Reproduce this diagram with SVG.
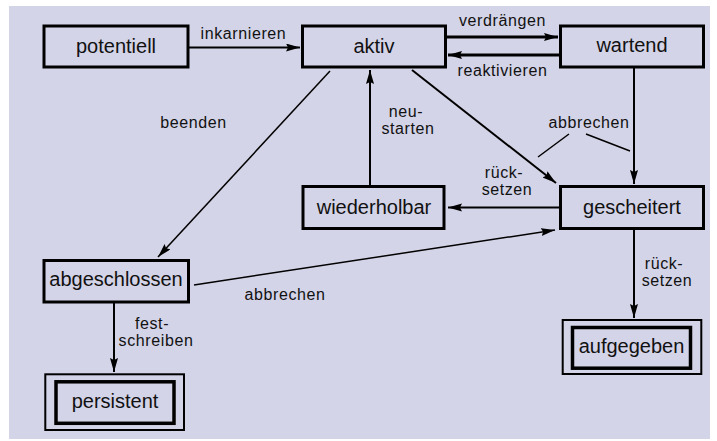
<svg xmlns="http://www.w3.org/2000/svg" width="717" height="441" viewBox="0 0 717 441">
  <style>
    .box { fill: none; stroke: #000; stroke-width: 3; }
    .outer { fill: none; stroke: #000; stroke-width: 2; }
    .inner { fill: none; stroke: #000; stroke-width: 3.5; }
    .node { font-family: "Liberation Sans", Arial, sans-serif; font-size: 20px; fill: #111; text-anchor: middle; }
    .lbl { font-family: "Liberation Sans", Arial, sans-serif; font-size: 16px; letter-spacing: 0.6px; fill: #111; text-anchor: middle; }
    .edge { fill: none; stroke: #000; stroke-width: 2; }
    .thick { stroke-width: 3; }
    .thin { fill: none; stroke: #000; stroke-width: 1.5; }
  </style>
  <defs>
    <marker id="arrow" markerUnits="userSpaceOnUse" markerWidth="16" markerHeight="10" refX="14" refY="4" orient="auto">
      <path d="M0,0 L14,4 L0,8 L2,4 Z" fill="#000"/>
    </marker>
  </defs>

  <!-- canvas -->
  <rect x="9" y="6" width="701" height="433" fill="#d4d4e8"/>

  <!-- connectors -->
  <g id="connectors">
    <line class="edge" x1="188" y1="47.5" x2="300" y2="47.5" marker-end="url(#arrow)"/>
    <line class="edge thick" x1="447" y1="37" x2="558" y2="37" marker-end="url(#arrow)"/>
    <line class="edge thick" x1="559" y1="55" x2="448" y2="55" marker-end="url(#arrow)"/>
    <line class="thin" x1="330" y1="71" x2="158" y2="257" marker-end="url(#arrow)"/>
    <line class="edge" x1="412" y1="70" x2="556" y2="183" marker-end="url(#arrow)"/>
    <line class="edge" x1="370" y1="185" x2="370" y2="70" marker-end="url(#arrow)"/>
    <line class="edge" x1="634" y1="68" x2="634" y2="184" marker-end="url(#arrow)"/>
    <line class="edge" x1="559" y1="207.5" x2="448" y2="207.5" marker-end="url(#arrow)"/>
    <line class="thin" x1="194" y1="285" x2="555" y2="230" marker-end="url(#arrow)"/>
    <line class="edge" x1="634" y1="230" x2="634" y2="318" marker-end="url(#arrow)"/>
    <line class="edge" x1="114" y1="303" x2="114" y2="372" marker-end="url(#arrow)"/>
    <!-- pointers for the abbrechen label -->
    <line class="thin" x1="569" y1="134" x2="538" y2="157"/>
    <line class="thin" x1="586" y1="134" x2="630" y2="151"/>

    <text class="lbl" x="243.5" y="39">inkarnieren</text>
    <text class="lbl" x="502.5" y="26">verdrängen</text>
    <text class="lbl" x="502.5" y="76">reaktivieren</text>
    <text class="lbl" x="193.5" y="128">beenden</text>
    <text class="lbl" x="406" y="117">neu-</text>
    <text class="lbl" x="408" y="134">starten</text>
    <text class="lbl" x="589" y="128">abbrechen</text>
    <text class="lbl" x="504" y="178">rück-</text>
    <text class="lbl" x="507" y="195">setzen</text>
    <text class="lbl" x="285" y="300">abbrechen</text>
    <text class="lbl" x="664" y="269">rück-</text>
    <text class="lbl" x="667" y="286">setzen</text>
    <text class="lbl" x="152" y="329">fest-</text>
    <text class="lbl" x="156" y="346">schreiben</text>
  </g>

  <!-- states -->
  <g id="potentiell">
    <rect class="box" x="44" y="26" width="144" height="41"/>
    <text class="node" x="116" y="53">potentiell</text>
  </g>
  <g id="aktiv">
    <rect class="box" x="302.5" y="26" width="143" height="41"/>
    <text class="node" x="374" y="53">aktiv</text>
  </g>
  <g id="wartend">
    <rect class="box" x="560.5" y="26" width="143" height="41"/>
    <text class="node" x="632" y="52">wartend</text>
  </g>
  <g id="wiederholbar">
    <rect class="box" x="303" y="186.5" width="141" height="42"/>
    <text class="node" x="374" y="214">wiederholbar</text>
  </g>
  <g id="gescheitert">
    <rect class="box" x="560.5" y="186.5" width="143" height="42"/>
    <text class="node" x="632" y="214">gescheitert</text>
  </g>
  <g id="abgeschlossen">
    <rect class="box" x="44" y="260.5" width="144.5" height="41.5"/>
    <text class="node" x="116" y="286">abgeschlossen</text>
  </g>
  <g id="persistent">
    <rect class="outer" x="45.3" y="374.3" width="138.7" height="55.7"/>
    <rect class="inner" x="56" y="381.8" width="118" height="41.5"/>
    <text class="node" x="115" y="408">persistent</text>
  </g>
  <g id="aufgegeben">
    <rect class="outer" x="562.7" y="320" width="138.6" height="54"/>
    <rect class="inner" x="572.5" y="327.5" width="118" height="40.7"/>
    <text class="node" x="631.5" y="353">aufgegeben</text>
  </g>
</svg>
